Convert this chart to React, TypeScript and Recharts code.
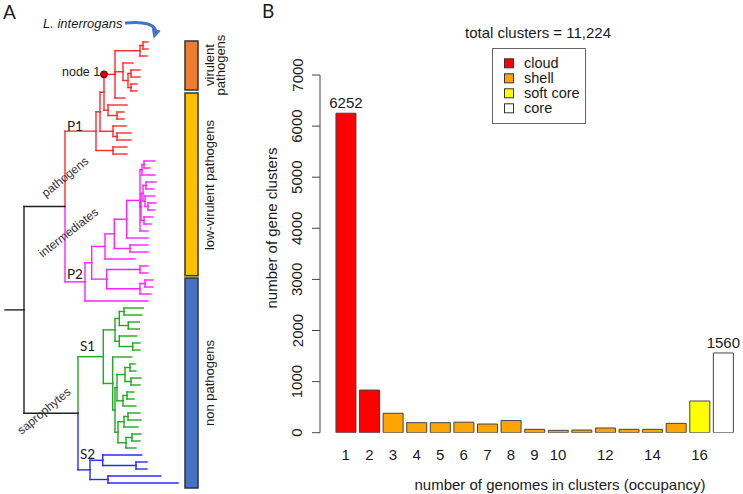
import React from 'react';
import {
  BarChart,
  Bar,
  Cell,
  XAxis,
  YAxis,
  LabelList,
  Legend,
  ComposedChart,
  Scatter,
  ReferenceLine,
  ReferenceArea,
  ReferenceDot,
} from 'recharts';

// ---------- panel B: gene cluster occupancy ----------
const OCCUPANCY = ['1', '2', '3', '4', '5', '6', '7', '8', '9', '10', '11', '12', '13', '14', '15', '16', '17'];
const CLUSTERS = [6252, 835, 380, 196, 196, 206, 170, 238, 66, 46, 52, 92, 66, 66, 183, 620, 1560];
const CLASS_OF = [
  'cloud', 'cloud', 'shell', 'shell', 'shell', 'shell', 'shell', 'shell', 'shell',
  'shell', 'shell', 'shell', 'shell', 'shell', 'shell', 'soft core', 'core',
];
const CLASSES = ['cloud', 'shell', 'soft core', 'core'];
const CLASS_COLORS = ['#ff0000', '#ffa500', '#ffff00', '#ffffff'];
const SHOWN_TICKS = ['1', '2', '3', '4', '5', '6', '7', '8', '9', '10', '12', '14', '16'];
const LABELLED = ['1', '17'];
const Y_TICKS = [0, 1000, 2000, 3000, 4000, 5000, 6000, 7000];

// ---------- panel A: species tree ----------
// internal node = [depth, ...children], leaf = tip depth
type Tree = number | Tree[];

const NODE1_CLADE: Tree = [115, [140, [143, 148, 148], 147], [123, 133, [128, [131, 140, 140], [131, 137, 137]]], 125];
const P1_CLADE: Tree = [96, [100, [104, NODE1_CLADE, [108, 127, [117, 124, 124]]], [113, 126, [117, 131, 131]]], [113, 127, 127]];
const INTERMEDIATE_TOP: Tree = [140, [142, [144, 155, 150], 155], [141, [143, [146, 156, 154], [145, 155, [148, 156, 155]]], [144, 153, 151]], 148];
const P2_CLADE: Tree = [85, [91.7, [105, [114.3, [126.7, INTERMEDIATE_TOP, 148], [130, 148, 148]], 135], [106.7, [140, 148, 148], [140, [145, 153, 153], 151]]], 148];
const S1_CLADE: Tree = [
  103.3,
  [115, [119.3, [124, 143.3, 141.7], [128.3, 139.3, 139.3]], [119.3, 136.7, [132.7, 140, 140]]],
  [112.7, 131.7, [115, [117, [125, [130, 135, 136], [131, 141, 140]], [123, [127, 134, 134], 136]], [118, [124, [128, 140, 141], 138], [126, [132, 141, 140], 136]]]],
];
const S2_CLADE: Tree = [90, [102.7, 141.7, [136, 147, 147]], [108, 160.7, 178]];
const ROOT_STEM = 5;
const ROOT_DEPTH = 24;
const PATHOGENS_DEPTH = 65;
const SAPROPHYTES_DEPTH = 78;

const GROUP_LABELS = ['virulent pathogens', 'low-virulent pathogens', 'non pathogens'];
const GROUP_SPANS = [[-0.15, 6.85], [7.3, 33.4], [33.7, 63.7]];
const GROUP_COLORS = ['#ed7d31', '#ffc000', '#4472c4'];

const RED = '#ff2a2a';
const MAGENTA = '#ff22ff';
const GREEN = '#22a822';
const BLUE = '#2a2aff';
const BLACK = '#222';

type Placed = { d: number; y: number; color: string };
type Seg = { x1: number; y1: number; x2: number; y2: number; color: string };

function layoutTree() {
  const segs: Seg[] = [];
  const tips: { x: number; y: number }[] = [];
  let leaf = 0;
  let node1 = { x: 0, y: 0 };

  const join = (d: number, kids: Placed[]) => {
    const y = (kids[0].y + kids[kids.length - 1].y) / 2;
    kids.forEach((k) => {
      segs.push({ x1: d, y1: y, x2: d, y2: k.y, color: k.color });
      segs.push({ x1: d, y1: k.y, x2: k.d, y2: k.y, color: k.color });
    });
    return y;
  };

  const walk = (t: Tree, color: string): Placed => {
    if (typeof t === 'number') {
      const p = { d: t, y: leaf++, color };
      tips.push({ x: p.d, y: p.y });
      return p;
    }
    const [d, ...kids] = t as [number, ...Tree[]];
    const placed = kids.map((k) => {
      const p = walk(k, color);
      if (k === NODE1_CLADE) node1 = { x: d, y: p.y };
      return p;
    });
    return { d, y: join(d, placed), color };
  };

  const p1 = walk(P1_CLADE, RED);
  const p2 = walk(P2_CLADE, MAGENTA);
  const s1 = walk(S1_CLADE, GREEN);
  const s2 = walk(S2_CLADE, BLUE);
  const pathogens = { d: PATHOGENS_DEPTH, y: join(PATHOGENS_DEPTH, [p1, p2]), color: BLACK };
  const saprophytes = { d: SAPROPHYTES_DEPTH, y: join(SAPROPHYTES_DEPTH, [s1, s2]), color: BLACK };
  const rootY = join(ROOT_DEPTH, [pathogens, saprophytes]);
  segs.push({ x1: ROOT_STEM, y1: rootY, x2: ROOT_DEPTH, y2: rootY, color: BLACK });
  return { segs, tips, node1 };
}

const tree = layoutTree();
const LEAF_PX = 7;
const FIRST_LEAF_PX = 42;

const barData = OCCUPANCY.map((o, i) => ({
  occupancy: o,
  clusters: CLUSTERS[i],
  cls: CLASS_OF[i],
  label: LABELLED.includes(o) ? String(CLUSTERS[i]) : '',
}));

const TEXT = '#1a1a1a';

const XTick = ({ x, y, payload }: any) =>
  SHOWN_TICKS.includes(payload.value) ? (
    <text x={x} y={y} dy="0.71em" textAnchor="middle" fontSize={15} fill={TEXT}>
      {payload.value}
    </text>
  ) : (
    <g />
  );

const YTick = ({ x, y, payload }: any) => (
  <text
    x={x - 7.5}
    y={y}
    transform={`rotate(-90 ${x - 7.5} ${y})`}
    textAnchor="middle"
    fontSize={15}
    fill={TEXT}
  >
    {payload.value}
  </text>
);

const LegendBox = () => (
  <svg width={95} height={77}>
    <rect x={0.5} y={0.5} width={93} height={75} fill="#fff" stroke="#666" />
    {CLASSES.map((c, i) => (
      <g key={c}>
        <rect x={12.5} y={10.8 + i * 15} width={9} height={9} fill={CLASS_COLORS[i]} stroke="#333" />
        <text x={32} y={20.3 + i * 15} fontSize={14.5} fill={TEXT}>
          {c}
        </text>
      </g>
    ))}
  </svg>
);

export default function App() {
  return (
    <div
      style={{
        position: 'fixed',
        left: 0,
        top: 0,
        width: 743,
        height: 494,
        background: '#fff',
        fontFamily: '"Liberation Sans", Arial, sans-serif',
        overflow: 'hidden',
      }}
    >
      {/* panel A tree */}
      <div style={{ position: 'absolute', left: 0, top: 0 }}>
        <ComposedChart width={240} height={494} margin={{ top: 0, right: 0, bottom: 0, left: 0 }}>
          <XAxis type="number" dataKey="x" domain={[0, 240]} hide allowDataOverflow />
          <YAxis
            type="number"
            dataKey="y"
            domain={[-FIRST_LEAF_PX / LEAF_PX, 494 / LEAF_PX - FIRST_LEAF_PX / LEAF_PX]}
            reversed
            hide
            allowDataOverflow
          />
          <Scatter data={tree.tips} isAnimationActive={false} shape={() => <g />} />
          {tree.segs.map((s, i) => (
            <ReferenceLine
              key={i}
              segment={[{ x: s.x1, y: s.y1 }, { x: s.x2, y: s.y2 }]}
              stroke={s.color}
              strokeWidth={1.4}
              strokeLinecap="square"
              ifOverflow="visible"
            />
          ))}
          <ReferenceDot x={tree.node1.x} y={tree.node1.y} r={3.5} fill="#e00000" stroke="#222" strokeWidth={1} />
          {GROUP_SPANS.map((g, i) => (
            <ReferenceArea
              key={GROUP_LABELS[i]}
              x1={185}
              x2={198}
              y1={g[0]}
              y2={g[1]}
              fill={GROUP_COLORS[i]}
              fillOpacity={1}
              stroke="#333"
              strokeWidth={1.5}
            />
          ))}
        </ComposedChart>
      </div>

      {/* panel B bar chart */}
      <div style={{ position: 'absolute', left: 0, top: 0 }}>
        <BarChart
          width={743}
          height={494}
          data={barData}
          margin={{ top: 75, right: 8, bottom: 31.3, left: 260 }}
          barCategoryGap="8.3%"
        >
          <XAxis
            dataKey="occupancy"
            padding={{ left: 14, right: 0 }}
            axisLine={false}
            tickLine={false}
            tickMargin={10.6}
            interval={0}
            tick={XTick}
            height={30}
          />
          <YAxis
            domain={[0, 7000]}
            ticks={Y_TICKS}
            width={60}
            tickSize={8}
            axisLine={{ stroke: '#444' }}
            tickLine={{ stroke: '#444' }}
            tick={YTick}
            allowDataOverflow
          />
          <Legend
            layout="horizontal"
            verticalAlign="middle"
            align="center"
            content={LegendBox}
            wrapperStyle={{ left: 492, top: 48, width: 95, height: 77 }}
          />
          <Bar dataKey="clusters" isAnimationActive={false} stroke="#444" strokeWidth={1}>
            {barData.map((d) => (
              <Cell key={d.occupancy} fill={CLASS_COLORS[CLASSES.indexOf(d.cls)]} />
            ))}
            <LabelList dataKey="label" position="top" offset={5} fontSize={15} fill={TEXT} />
          </Bar>
        </BarChart>
      </div>

      {/* annotations */}
      <svg
        width={743}
        height={494}
        style={{ position: 'absolute', left: 0, top: 0, pointerEvents: 'none' }}
      >
        <defs>
          <marker id="ahead" viewBox="0 0 10 10" refX="5" refY="5" markerWidth="3.2" markerHeight="3.2" orient="auto">
            <path d="M0,0 L10,5 L0,10 z" fill="#4472c4" />
          </marker>
        </defs>
        <text x={3} y={19} fontSize={19} fontFamily="Lato, sans-serif" fill={TEXT}>A</text>
        <text x={262} y={18} fontSize={19} fontFamily="Lato, sans-serif" fill={TEXT}>B</text>

        <text x={43} y={28} fontSize={13} fontStyle="italic" fill={TEXT}>L. interrogans</text>
        <path
          d="M125,23 C143,21 158,24 155,34"
          fill="none"
          stroke="#4472c4"
          strokeWidth={3}
          markerEnd="url(#ahead)"
        />
        <text x={62} y={76} fontSize={12.5} fill={TEXT}>node 1</text>
        <text x={67} y={130.7} fontSize={13.5} fontFamily="Lato, sans-serif" fill={TEXT}>P1</text>
        <text x={67} y={279} fontSize={13.5} fontFamily="Lato, sans-serif" fill={TEXT}>P2</text>
        <text x={80} y={350.7} fontSize={13.5} fontFamily="Lato, sans-serif" fill={TEXT}>S1</text>
        <text x={80} y={459.3} fontSize={13.5} fontFamily="Lato, sans-serif" fill={TEXT}>S2</text>
        <text x={65} y={177} fontSize={12} fill="#333" textAnchor="middle" dominantBaseline="central" transform="rotate(-39 65 177)">pathogens</text>
        <text x={68.5} y={232.5} fontSize={12} fill="#333" textAnchor="middle" dominantBaseline="central" transform="rotate(-38 68.5 232.5)">intermediates</text>
        <text x={44} y={411} fontSize={12} fill="#333" textAnchor="middle" dominantBaseline="central" transform="rotate(-40 44 411)">saprophytes</text>

        <text x={209} y={65} fontSize={13} fill={TEXT} textAnchor="middle" dominantBaseline="central" transform="rotate(-90 209 65)">virulent</text>
        <text x={220.5} y={65} fontSize={13} fill={TEXT} textAnchor="middle" dominantBaseline="central" transform="rotate(-90 220.5 65)">pathogens</text>
        <text x={209} y={185} fontSize={13} fill={TEXT} textAnchor="middle" dominantBaseline="central" transform="rotate(-90 209 185)">low-virulent pathogens</text>
        <text x={209} y={383} fontSize={13} fill={TEXT} textAnchor="middle" dominantBaseline="central" transform="rotate(-90 209 383)">non pathogens</text>

        <text x={538} y={38.3} fontSize={15} fill={TEXT} textAnchor="middle">total clusters = 11,224</text>
        <text x={277} y={228} fontSize={15} fill={TEXT} textAnchor="middle" transform="rotate(-90 277 228)">number of gene clusters</text>
        <text x={560} y={490} fontSize={15} fill={TEXT} textAnchor="middle">number of genomes in clusters (occupancy)</text>
      </svg>
    </div>
  );
}
